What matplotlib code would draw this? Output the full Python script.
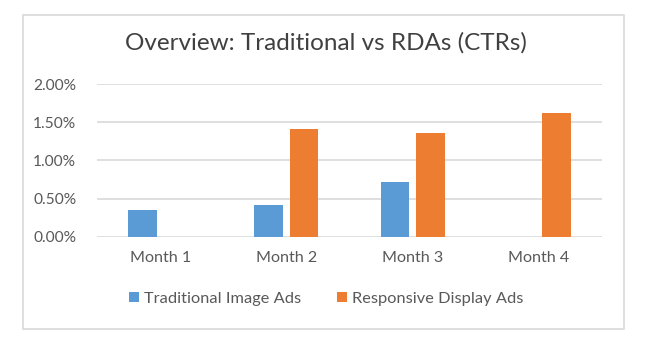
import matplotlib
matplotlib.use("Agg")
import matplotlib.pyplot as plt
from matplotlib.patches import Rectangle, Patch
import numpy as np

categories = ["Month 1", "Month 2", "Month 3", "Month 4"]
traditional = [0.35, 0.42, 0.72, 0.0]
responsive = [0.0, 1.41, 1.36, 1.62]
yticks = [0.0, 0.5, 1.0, 1.5, 2.0]
ytick_labels = ["0.00%", "0.50%", "1.00%", "1.50%", "2.00%"]
series_names = ["Traditional Image Ads", "Responsive Display Ads"]
title = "Overview: Traditional vs RDAs (CTRs)"

blue = "#5B9BD5"
orange = "#ED7D31"
grid_c = "#D9D9D9"
text_c = "#595959"

plt.rcParams['font.family'] = ['Lato', 'DejaVu Sans']

fig = plt.figure(figsize=(6.52, 3.46), dpi=100)
W, H = 652, 346
ax = fig.add_axes([97 / W, 1 - 236.7 / H, (602 - 97) / W, (236.7 - 84) / H])

x = np.arange(len(categories))
bw = 0.226
off = 0.141
ax.bar(x - off, traditional, width=bw, color=blue, zorder=3)
ax.bar(x + off, responsive, width=bw, color=orange, zorder=3)

ax.set_xlim(-0.5, len(categories) - 0.5)
ax.set_ylim(0, 2.0)
ax.set_yticks(yticks)
ax.set_yticklabels(ytick_labels)
ax.set_xticks(x)
ax.set_xticklabels(categories)
ax.tick_params(axis='both', length=0, colors=text_c)
ax.tick_params(axis='y', pad=15, labelsize=11.2)
ax.tick_params(axis='x', pad=10, labelsize=11.6)
for s in ax.spines.values():
    s.set_visible(False)
ax.yaxis.grid(True, color=grid_c, linewidth=1.2, zorder=0)
ax.set_axisbelow(True)

fig.text(0.5, 1 - 43 / H, title, ha='center', va='center', fontsize=17.5, color="#404040")

handles = [Patch(facecolor=blue), Patch(facecolor=orange)]
fig.legend(handles, series_names, loc='center', bbox_to_anchor=(0.5, 1 - 299 / H),
           ncol=2, frameon=False, fontsize=11.8, labelcolor=text_c,
           handlelength=0.6, handleheight=0.6, handletextpad=0.3, columnspacing=2.2)

fig.patches.append(Rectangle((22.5 / W, 1 - 328.5 / H), (624 - 22.5) / W, (328.5 - 14.5) / H,
                             transform=fig.transFigure, fill=False, edgecolor=grid_c,
                             linewidth=1.2))

fig.savefig("out.png", dpi=100, facecolor="white")
